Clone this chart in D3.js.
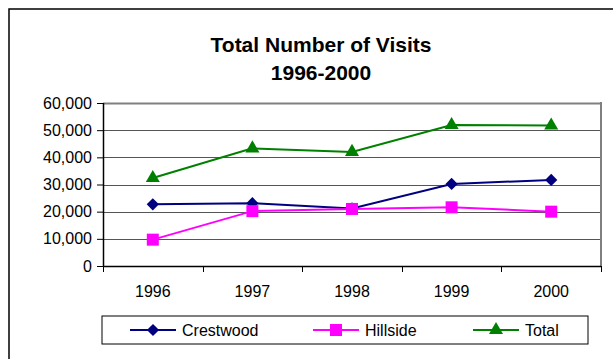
<!DOCTYPE html>
<html>
<head>
<meta charset="utf-8">
<script src="https://cdn.jsdelivr.net/npm/d3@7"></script>
<style>
html,body{margin:0;padding:0;background:#fff;}
svg{display:block;font-family:"Liberation Sans",Arial,sans-serif;}
</style>
</head>
<body>
<svg id="chart" width="613" height="359"></svg>
<script>
const categories = ["1996","1997","1998","1999","2000"];
const crestwood = [22700, 23100, 21200, 30200, 31700];
const hillside  = [9700, 20200, 21000, 21600, 20000];
const total     = [32400, 43300, 42000, 51900, 51700];
const yTicks = [0,10000,20000,30000,40000,50000,60000];
const seriesNames = ["Crestwood","Hillside","Total"];

const svg = d3.select("#chart");
const plot = {left:103, right:601, top:103, bottom:266};

// outer chart border
svg.append("rect").attr("x",9).attr("y",9).attr("width",700).attr("height",400)
  .attr("fill","#fff").attr("stroke","#000").attr("stroke-width",1.5);

// title
const title = svg.append("text").attr("text-anchor","middle")
  .attr("font-size",21).attr("font-weight","bold").attr("fill","#000");
title.append("tspan").attr("x",321).attr("y",52).text("Total Number of Visits");
title.append("tspan").attr("x",321).attr("y",80).text("1996-2000");

const x = d3.scaleBand().domain(categories).range([plot.left, plot.right]);
const y = d3.scaleLinear().domain([0,60000]).range([plot.bottom, plot.top]);
const cx = c => x(c) + x.bandwidth()/2;

// gridlines
svg.append("g").selectAll("line").data(yTicks.filter(d=>d>0)).join("line")
  .attr("x1",plot.left).attr("x2",plot.right)
  .attr("y1",d=>Math.round(y(d))+0.5).attr("y2",d=>Math.round(y(d))+0.5)
  .attr("stroke",d=>d===60000?"#808080":"#555").attr("stroke-width",d=>d===60000?2:1);
// right border of plot area
svg.append("line").attr("x1",plot.right).attr("x2",plot.right)
  .attr("y1",plot.top-1).attr("y2",plot.bottom)
  .attr("stroke","#808080").attr("stroke-width",2);

// y axis
const yAxis = svg.append("g").attr("transform",`translate(${plot.left},0)`)
  .call(d3.axisLeft(y).tickValues(yTicks).tickFormat(d3.format(",")).tickSize(6).tickPadding(5));
yAxis.select(".domain").attr("stroke","#000").attr("stroke-width",1.5).attr("d",`M0.5,${plot.top}V${plot.bottom}`);
yAxis.selectAll(".tick line").attr("stroke","#000");
yAxis.selectAll("text").attr("font-size",16).attr("fill","#000").attr("font-family","Liberation Sans, Arial, sans-serif");

// x axis
const xAxis = svg.append("g").attr("transform",`translate(0,${plot.bottom})`)
  .call(d3.axisBottom(x).tickSize(0).tickPadding(20));
xAxis.select(".domain").attr("stroke","#000").attr("stroke-width",1.5).attr("d",`M${plot.left},0.5H${plot.right}`);
xAxis.selectAll("text").attr("font-size",16).attr("fill","#000").attr("font-family","Liberation Sans, Arial, sans-serif");
// ticks at band boundaries
const bounds = categories.map(c=>x(c)).concat([plot.right]);
svg.append("g").selectAll("line").data(bounds).join("line")
  .attr("x1",d=>Math.round(d)+0.5).attr("x2",d=>Math.round(d)+0.5)
  .attr("y1",plot.bottom).attr("y2",plot.bottom+6).attr("stroke","#000");

const series = [
  {name:seriesNames[0], values:crestwood, color:"#000080", symbol:d3.symbolSquare, size:75, rot:45},
  {name:seriesNames[1], values:hillside, color:"#FF00FF", symbol:d3.symbolSquare, size:144, rot:0},
  {name:seriesNames[2], values:total, color:"#008000", symbol:d3.symbolTriangle, size:85, rot:0}
];

const line = d3.line().x((d,i)=>cx(categories[i])).y(d=>y(d));
series.forEach(s=>{
  svg.append("path").datum(s.values).attr("d",line).attr("fill","none")
    .attr("stroke",s.color).attr("stroke-width",2);
});
series.forEach(s=>{
  svg.append("g").selectAll("path").data(s.values).join("path")
    .attr("transform",(d,i)=>`translate(${cx(categories[i])},${y(d)}) rotate(${s.rot})`)
    .attr("d",d3.symbol().type(s.symbol).size(s.size)).attr("fill",s.color);
});

// legend
svg.append("rect").attr("x",102).attr("y",316).attr("width",486).attr("height",28)
  .attr("fill","#fff").attr("stroke","#000").attr("stroke-width",1);
const legX = [130, 313, 473];
series.forEach((s,i)=>{
  const g = svg.append("g").attr("transform",`translate(${legX[i]},330)`);
  g.append("line").attr("x1",0).attr("x2",46).attr("y1",0).attr("y2",0)
    .attr("stroke",s.color).attr("stroke-width",2);
  g.append("path").attr("transform",`translate(23,0) rotate(${s.rot})`)
    .attr("d",d3.symbol().type(s.symbol).size(s.size)).attr("fill",s.color);
  g.append("text").attr("x",52).attr("y",6).attr("font-size",16).attr("fill","#000").text(s.name);
});
</script>
</body>
</html>
